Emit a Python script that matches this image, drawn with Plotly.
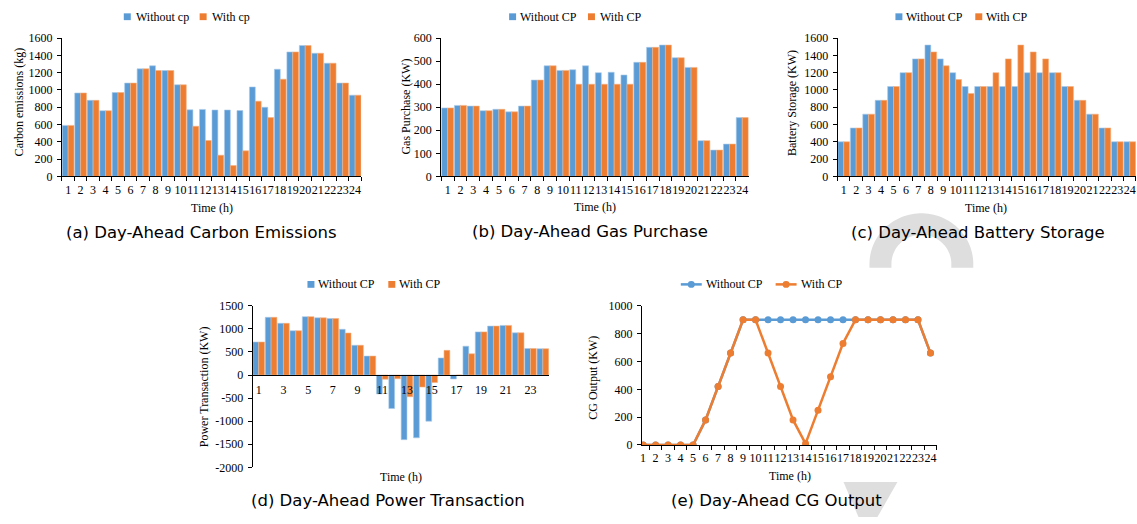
import numpy as np
import plotly.graph_objects as go

# ---- data -------------------------------------------------------------
hours = list(range(1, 25))
hour_labels = [str(h) for h in hours]

carbon_without_cp = [590, 965, 880, 760, 970, 1080, 1245, 1280, 1225, 1060, 770, 775,
                     768, 768, 762, 1035, 800, 1240, 1440, 1515, 1425, 1310, 1080, 940]
carbon_with_cp = [590, 965, 880, 760, 970, 1080, 1245, 1225, 1225, 1060, 580, 415,
                  245, 125, 295, 870, 680, 1125, 1440, 1515, 1425, 1310, 1080, 940]

gas_without_cp = [297, 308, 305, 285, 291, 280, 305, 418, 480, 460, 463, 480,
                  450, 452, 440, 495, 560, 570, 515, 473, 155, 114, 140, 255]
gas_with_cp = [297, 308, 305, 285, 291, 280, 305, 418, 480, 460, 400, 400,
               400, 400, 400, 495, 560, 570, 515, 473, 155, 114, 140, 255]

battery_without_cp = [400, 560, 720, 880, 1040, 1200, 1360, 1520, 1360, 1200, 1040, 1040,
                      1040, 1040, 1040, 1200, 1200, 1200, 1040, 880, 720, 560, 400, 400]
battery_with_cp = [400, 560, 720, 880, 1040, 1200, 1360, 1440, 1280, 1120, 960, 1040,
                   1200, 1360, 1520, 1440, 1360, 1200, 1040, 880, 720, 560, 400, 400]

power_without_cp = [715, 1250, 1120, 960, 1265, 1240, 1225, 990, 645, 410, -410, -725,
                    -1400, -1360, -1000, 370, -85, 625, 935, 1060, 1075, 915, 575, 570]
power_with_cp = [715, 1250, 1120, 960, 1265, 1240, 1225, 910, 645, 410, -90, -80,
                 -470, -260, -160, 535, 0, 460, 935, 1060, 1075, 915, 575, 570]

cg_without_cp = [0, 0, 0, 0, 0, 180, 420, 660, 900, 900, 900, 900,
                 900, 900, 900, 900, 900, 900, 900, 900, 900, 900, 900, 660]
cg_with_cp = [0, 0, 0, 0, 0, 180, 420, 660, 900, 900, 660, 420,
              180, 10, 250, 490, 730, 900, 900, 900, 900, 900, 900, 660]

power_ticks = [1500, 1000, 500, 0, -500, -1000, -1500, -2000]
power_tick_text = ["1500", "1000", "500", "0", "-500", "-1000", "-1500", "-2000"]
power_x_ticks = [1, 3, 5, 7, 9, 11, 13, 15, 17, 19, 21, 23]

series_names = [("Without cp", "With cp"), ("Without CP", "With CP"), ("Without CP", "With CP"),
                ("Without CP", "With CP"), ("Without CP", "With CP")]
captions = ["(a) Day-Ahead Carbon Emissions", "(b) Day-Ahead Gas Purchase",
            "(c) Day-Ahead Battery Storage", "(d) Day-Ahead Power Transaction",
            "(e) Day-Ahead CG Output"]
y_titles = ["Carbon emissions (kg)", "Gas Purchase (KW)", "Battery Storage (KW)",
            "Power Transaction (KW)", "CG Output (KW)"]

# ---- styling ----------------------------------------------------------
BLUE = "#5B9BD5"
ORANGE = "#ED7D31"
SERIF = "Liberation Serif, Times New Roman, serif"
SANS = "DejaVu Sans, sans-serif"
W, H = 1137, 524


def fx(x):
    return x / W


def fy(y):
    return 1 - y / H


fig = go.Figure()


def add_bars(xs, a, b, names, axis_id):
    xa = "x" if axis_id == 1 else f"x{axis_id}"
    ya = "y" if axis_id == 1 else f"y{axis_id}"
    for vals, name, col, edge in ((a, names[0], BLUE, "#a9cbe9"),
                                  (b, names[1], ORANGE, "#f4b183")):
        fig.add_trace(go.Bar(x=xs, y=vals, name=name, xaxis=xa, yaxis=ya,
                             showlegend=False,
                             marker=dict(color=col, line=dict(color=edge, width=0.6))))


add_bars(hour_labels, carbon_without_cp, carbon_with_cp, series_names[0], 1)
add_bars(hour_labels, gas_without_cp, gas_with_cp, series_names[1], 2)
add_bars(hour_labels, battery_without_cp, battery_with_cp, series_names[2], 3)
add_bars(hours, power_without_cp, power_with_cp, series_names[3], 4)

for vals, name, col in ((cg_without_cp, series_names[4][0], BLUE),
                        (cg_with_cp, series_names[4][1], ORANGE)):
    fig.add_trace(go.Scatter(x=hour_labels, y=vals, name=name, mode="lines+markers",
                             xaxis="x5", yaxis="y5", showlegend=False,
                             line=dict(color=col, width=2.5),
                             marker=dict(color=col, size=7, symbol="circle")))

tickfont = dict(family=SERIF, size=12, color="black")
axis_base = dict(showline=True, linecolor="black", linewidth=1, showgrid=False,
                 zeroline=False, ticks="outside", tickcolor="black", ticklen=4,
                 tickfont=tickfont, ticklabelstandoff=2)

# plot-area boxes in pixels: (left, right, top, bottom)
boxes = {
    1: (60, 360, 32, 174),
    2: (440, 748, 32, 174),
    3: (837, 1136, 32, 174),
    4: (251, 548, 307, 473),
    5: (641, 937, 307, 450),
}


def xdom(i):
    l, r, _, _ = boxes[i]
    return [fx(l), fx(r)]


def ydom(i):
    _, _, t, b = boxes[i]
    return [fy(b), fy(t)]


cat_x = dict(axis_base, type="category", tickson="boundaries", range=[-0.5, 23.5],
             tickmode="array", tickvals=hour_labels, ticktext=hour_labels, tickangle=0)

layout = dict(
    xaxis=dict(cat_x, domain=xdom(1), anchor="y"),
    yaxis=dict(axis_base, domain=ydom(1), anchor="x", range=[0, 1600], dtick=200),
    xaxis2=dict(cat_x, domain=xdom(2), anchor="y2"),
    yaxis2=dict(axis_base, domain=ydom(2), anchor="x2", range=[0, 600], dtick=100),
    xaxis3=dict(cat_x, domain=xdom(3), anchor="y3"),
    yaxis3=dict(axis_base, domain=ydom(3), anchor="x3", range=[0, 1600], dtick=200),
)

# power transaction: category axis drawn along the zero line
d_lo, d_hi = -2000, 1500
dy0, dy1 = ydom(4)
zero_pos = dy0 + (0 - d_lo) / (d_hi - d_lo) * (dy1 - dy0)
layout["xaxis4"] = dict(axis_base, domain=xdom(4), anchor="free", position=zero_pos,
                        range=[0.5, 24.5], tickmode="array", tickvals=power_x_ticks,
                        ticks="", ticklabelstandoff=4, tickangle=0)
layout["yaxis4"] = dict(axis_base, domain=ydom(4), anchor="x4", range=[d_lo, d_hi],
                        tickmode="array", tickvals=power_ticks, ticktext=power_tick_text)

layout["xaxis5"] = dict(cat_x, domain=xdom(5), anchor="y5", range=[-0.1, 23.55])
layout["yaxis5"] = dict(axis_base, domain=ydom(5), anchor="x5", range=[0, 1000], dtick=200)

annotations = []
shapes = []

# ---- legend keys (pixel positions: key left, text left for each entry, row y)
legend_rows = [
    ((122, 132), (198, 208), 10, "box"),
    ((508, 517), (587, 597), 10, "box"),
    ((895, 904), (975, 984), 10, "box"),
    ((306, 315), (387, 396), 285, "box"),
    ((680, 703), (775, 798), 285, "line"),
]
for (e1, e2, ry, kind), names in zip(legend_rows, series_names):
    for (kx, tx), name, col in ((e1, names[0], BLUE), (e2, names[1], ORANGE)):
        if kind == "box":
            shapes.append(dict(type="rect", xref="paper", yref="paper",
                               x0=fx(kx), x1=fx(kx + 7), y0=fy(ry + 3.5), y1=fy(ry - 3.5),
                               fillcolor=col, line=dict(width=0)))
        else:
            shapes.append(dict(type="line", xref="paper", yref="paper",
                               x0=fx(kx), x1=fx(kx + 21), y0=fy(ry), y1=fy(ry),
                               line=dict(color=col, width=2.5)))
            shapes.append(dict(type="circle", xref="paper", yref="paper",
                               x0=fx(kx + 7), x1=fx(kx + 14), y0=fy(ry + 3.5), y1=fy(ry - 3.5),
                               fillcolor=col, line=dict(width=0)))
        annotations.append(dict(text=name, x=fx(tx), y=fy(ry), xref="paper", yref="paper",
                                xanchor="left", yanchor="middle", showarrow=False,
                                font=dict(family=SERIF, size=12, color="black")))

caption_pos = [(200, 232), (589, 231), (978, 232), (387, 507), (776, 507)]
for text, (cx, cy) in zip(captions, caption_pos):
    annotations.append(dict(text=text, x=fx(cx), y=fy(cy), xref="paper", yref="paper",
                            xanchor="center", yanchor="middle", showarrow=False,
                            font=dict(family=SANS, size=16.5, color="black")))

time_pos = [(210, 207), (594, 206), (986, 207), (400, 483), (789, 482)]
for cx, cy in time_pos:
    annotations.append(dict(text="Time (h)", x=fx(cx), y=fy(cy), xref="paper", yref="paper",
                            xanchor="center", yanchor="middle", showarrow=False,
                            font=dict(family=SERIF, size=12, color="black")))

ytitle_pos = [(17, 97), (405, 102), (792, 99), (202, 390), (592, 381)]
for text, (cx, cy) in zip(y_titles, ytitle_pos):
    annotations.append(dict(text=text, x=fx(cx), y=fy(cy), xref="paper", yref="paper",
                            xanchor="center", yanchor="middle", showarrow=False,
                            textangle=-90,
                            font=dict(family=SERIF, size=12, color="black")))

# faint grey background marks
theta = np.linspace(np.pi, 0, 60)
acx, acy, r_out, r_in = 921, 264, 52, 30
outer = [(acx + r_out * np.cos(t), acy - r_out * np.sin(t)) for t in theta]
inner = [(acx + r_in * np.cos(t), acy - r_in * np.sin(t)) for t in theta[::-1]]
pts = [(acx - r_out, 268)] + outer + [(acx + r_out, 268), (acx + r_in, 268)] + inner + [(acx - r_in, 268)]
path = "M " + " L ".join(f"{fx(x):.5f},{fy(y):.5f}" for x, y in pts) + " Z"
shapes.append(dict(type="path", path=path, xref="paper", yref="paper",
                   fillcolor="#dedede", line=dict(width=0), layer="below"))
wedge = [(843, 488), (897, 488), (877, 524), (858, 524)]
path2 = "M " + " L ".join(f"{fx(x):.5f},{fy(y):.5f}" for x, y in wedge) + " Z"
shapes.append(dict(type="path", path=path2, xref="paper", yref="paper",
                   fillcolor="#dedede", line=dict(width=0), layer="below"))

fig.update_layout(
    **layout,
    annotations=annotations,
    shapes=shapes,
    width=W, height=H,
    margin=dict(l=0, r=0, t=0, b=0),
    paper_bgcolor="white",
    plot_bgcolor="rgba(0,0,0,0)",
    barmode="group",
    bargap=0.06,
    bargroupgap=0,
    showlegend=False,
    font=dict(family=SERIF, color="black"),
)

fig.write_html("out.html")
